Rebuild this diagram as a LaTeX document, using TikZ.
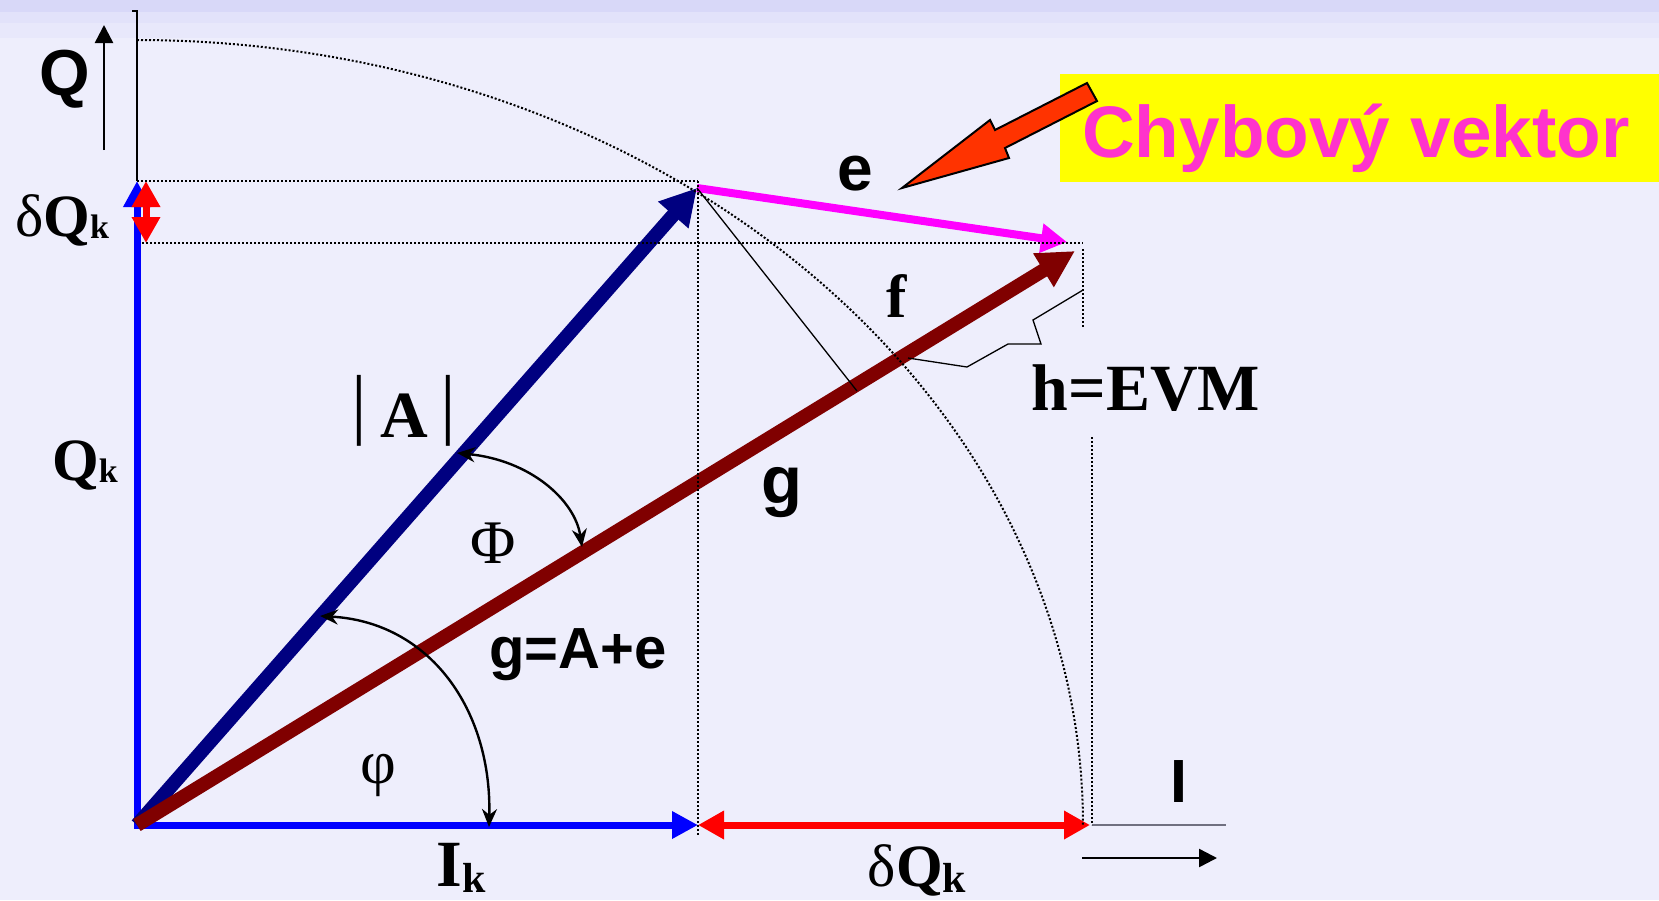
\documentclass[tikz,border=0pt]{standalone}
\usepackage{fontspec}
\setmainfont{Liberation Serif}
\setsansfont{Liberation Sans}
\usetikzlibrary{arrows.meta}
\definecolor{bgc}{HTML}{EEEEFC}
\definecolor{hdA}{HTML}{D8D8F8}
\definecolor{hdB}{HTML}{E2E2FA}
\definecolor{hdC}{HTML}{E8E8FB}
\definecolor{axblue}{HTML}{0000FF}
\definecolor{navyA}{HTML}{000080}
\definecolor{maroonG}{HTML}{800000}
\definecolor{magE}{HTML}{FF00FF}
\definecolor{pinktxt}{HTML}{FF33CC}
\definecolor{orangeR}{HTML}{FF3300}
\definecolor{yelbox}{HTML}{FFFF00}
\definecolor{axgray}{HTML}{707080}
\newcommand\subkl{{\fontsize{34}{34}\selectfont\raisebox{-2pt}{k}}}
\newcommand\subkb{{\fontsize{42}{42}\selectfont\raisebox{-6pt}{k}}}
\begin{document}
\begin{tikzpicture}[x=1pt,y=-1pt,
  lbl/.style={inner sep=0pt, anchor=base, text=black},
  serifb/.style={lbl, font=\fontsize{60}{60}\selectfont\bfseries},
  serifr/.style={lbl, font=\fontsize{62}{62}\selectfont},
  sansb/.style={lbl, font=\fontsize{64}{64}\selectfont\sffamily\bfseries},
  dotl/.style={black, line width=2pt, dash pattern=on 2pt off 2pt},
  thinl/.style={black, line width=1.3pt},
  anglearr/.style={black, line width=2.4pt, {Stealth[length=18pt,width=15pt]}-{Stealth[length=18pt,width=15pt]}},
  blueax/.style={axblue, line width=7pt, line cap=rect, -{Triangle[length=26pt,width=26pt]}},
  reddbl/.style={red, line width=7pt, {Triangle[length=26pt,width=27pt]}-{Triangle[length=26pt,width=27pt]}},
  bigvec/.style={line width=14pt, -{Triangle[length=37pt,width=37pt]}}
]
\useasboundingbox (0,0) rectangle (1659,900);
% background
\fill[bgc] (0,0) rectangle (1659,900);
\fill[hdC] (0,0) rectangle (1659,38);
\fill[hdB] (0,0) rectangle (1659,23);
\fill[hdA] (0,0) rectangle (1659,12);

% coordinates
\coordinate (O) at (137,825);
\coordinate (Atip) at (697,188);
\coordinate (Etip) at (1067,242);
\coordinate (Gtip) at (1075,251);
\coordinate (Qtop) at (137,181);
\coordinate (Iend) at (698,825);
\coordinate (Rend) at (1090,825);
\coordinate (dQa) at (146,181);
\coordinate (dQb) at (146,243);
\coordinate (F) at (857,391);

% yellow box and callout arrow
\fill[yelbox] (1060,74) rectangle (1659,182);
\node[lbl, anchor=base west, text=pinktxt, font=\fontsize{73}{73}\selectfont\sffamily\bfseries] (chyb) at (1082,157) {Chybový vektor};
\draw[black, line width=2pt, fill=orangeR, line join=miter]
  (902,188) -- (990,120) -- (995,130) -- (1087,83) -- (1097,101) -- (1005,148) -- (1009,158) -- cycle;

% axes
\draw[black, line width=1.2pt] (132,11) -- (137,11) -- (Qtop);
\coordinate (Qa0) at (104,150);
\coordinate (Qa1) at (104,25);
\draw[black, line width=2.5pt, -{Triangle[length=18pt,width=18pt]}] (Qa0) -- (Qa1);
\coordinate (Ia0) at (1092,825);
\coordinate (Ia1) at (1226,825);
\draw[axgray, line width=1.5pt] (Ia0) -- (Ia1);
\coordinate (Ib0) at (1082,858);
\coordinate (Ib1) at (1217,858);
\draw[black, line width=2.5pt, -{Triangle[length=18pt,width=18pt]}] (Ib0) -- (Ib1);

% vectors
\draw[blueax] (O) -- (Qtop);
\draw[blueax] (O) -- (Iend);
\draw[reddbl] (dQa) -- (dQb);
\draw[reddbl] (Iend) -- (Rend);
\draw[bigvec, navyA, -{Triangle[length=36pt,width=38pt]}] (O) -- (Atip);
\draw[magE, line width=8pt, -{Triangle[length=26pt,width=28pt]}] (Atip) -- (Etip);
\draw[bigvec, maroonG] (O) -- (Gtip);

% thin lines
\draw[thinl] (Atip) -- (F);
\coordinate (Z0) at (908,358);
\coordinate (Z5) at (1083,290);
\draw[thinl] (Z0) -- (967,367) -- (1008,344) -- (1041,344) -- (1033,320) -- (Z5);

% angle arrows
\coordinate (PhA) at (457,453);
\coordinate (PhB) at (582,547);
\draw[anglearr] (PhA) .. controls (530,460) and (575,500) .. (PhB);
\coordinate (phA) at (320,616);
\coordinate (phB) at (489,827);
\draw[anglearr] (phA) .. controls (430,622) and (492,710) .. (phB);

% dotted guides
\draw[dotl] (137,181) -- (698,181);
\draw[dotl] (142,243) -- (1083,243);
\draw[dotl] (698,181) -- (698,835);
\draw[dotl] (1083,249) -- (1083,327);
\draw[dotl] (1092,437) -- (1092,825);
\draw[dotl] plot[domain=90:0, samples=90, smooth] ({137+946*cos(\x)},{825-785*sin(\x)});

% labels
\node[sansb, font=\fontsize{65}{65}\selectfont\sffamily\bfseries] (Ql) at (65,95) {Q};
\node[serifb] (dQl) at (62,236) {{\mdseries δ}Q\subkl};
\node[serifb] (Qkl) at (85,480) {Q\subkl};
\node[serifb, font=\fontsize{66}{66}\selectfont\bfseries] (Al) at (404,437)
  {\raisebox{8pt}{\fontsize{78}{78}\selectfont\mdseries|}\hspace{13pt}A\hspace{13pt}\raisebox{8pt}{\fontsize{78}{78}\selectfont\mdseries|}};
\node[serifr] (Phil) at (493,563) {Φ};
\node[serifr, anchor=center] (phil) at (378,775) {φ};
\node[sansb, font=\fontsize{67}{67}\selectfont\sffamily\bfseries] (gl) at (782,503) {g};
\node[sansb, font=\fontsize{58}{58}\selectfont\sffamily\bfseries] (gAel) at (578,668) {g=A+e};
\node[sansb] (el) at (855,190) {e};
\node[serifb, font=\fontsize{61}{61}\selectfont\bfseries] (fl) at (897,317) {f};
\node[serifb, font=\fontsize{66}{66}\selectfont\bfseries] (hl) at (1146,410) {h=EVM};
\node[serifb, font=\fontsize{66}{66}\selectfont\bfseries] (Ikl) at (461,886) {I\subkb};
\node[serifb] (dQbl) at (917,886) {{\mdseries δ}Q\subkb};
\node[sansb, font=\fontsize{61}{61}\selectfont\sffamily\bfseries] (Irl) at (1179,802) {I};
\end{tikzpicture}
\end{document}
